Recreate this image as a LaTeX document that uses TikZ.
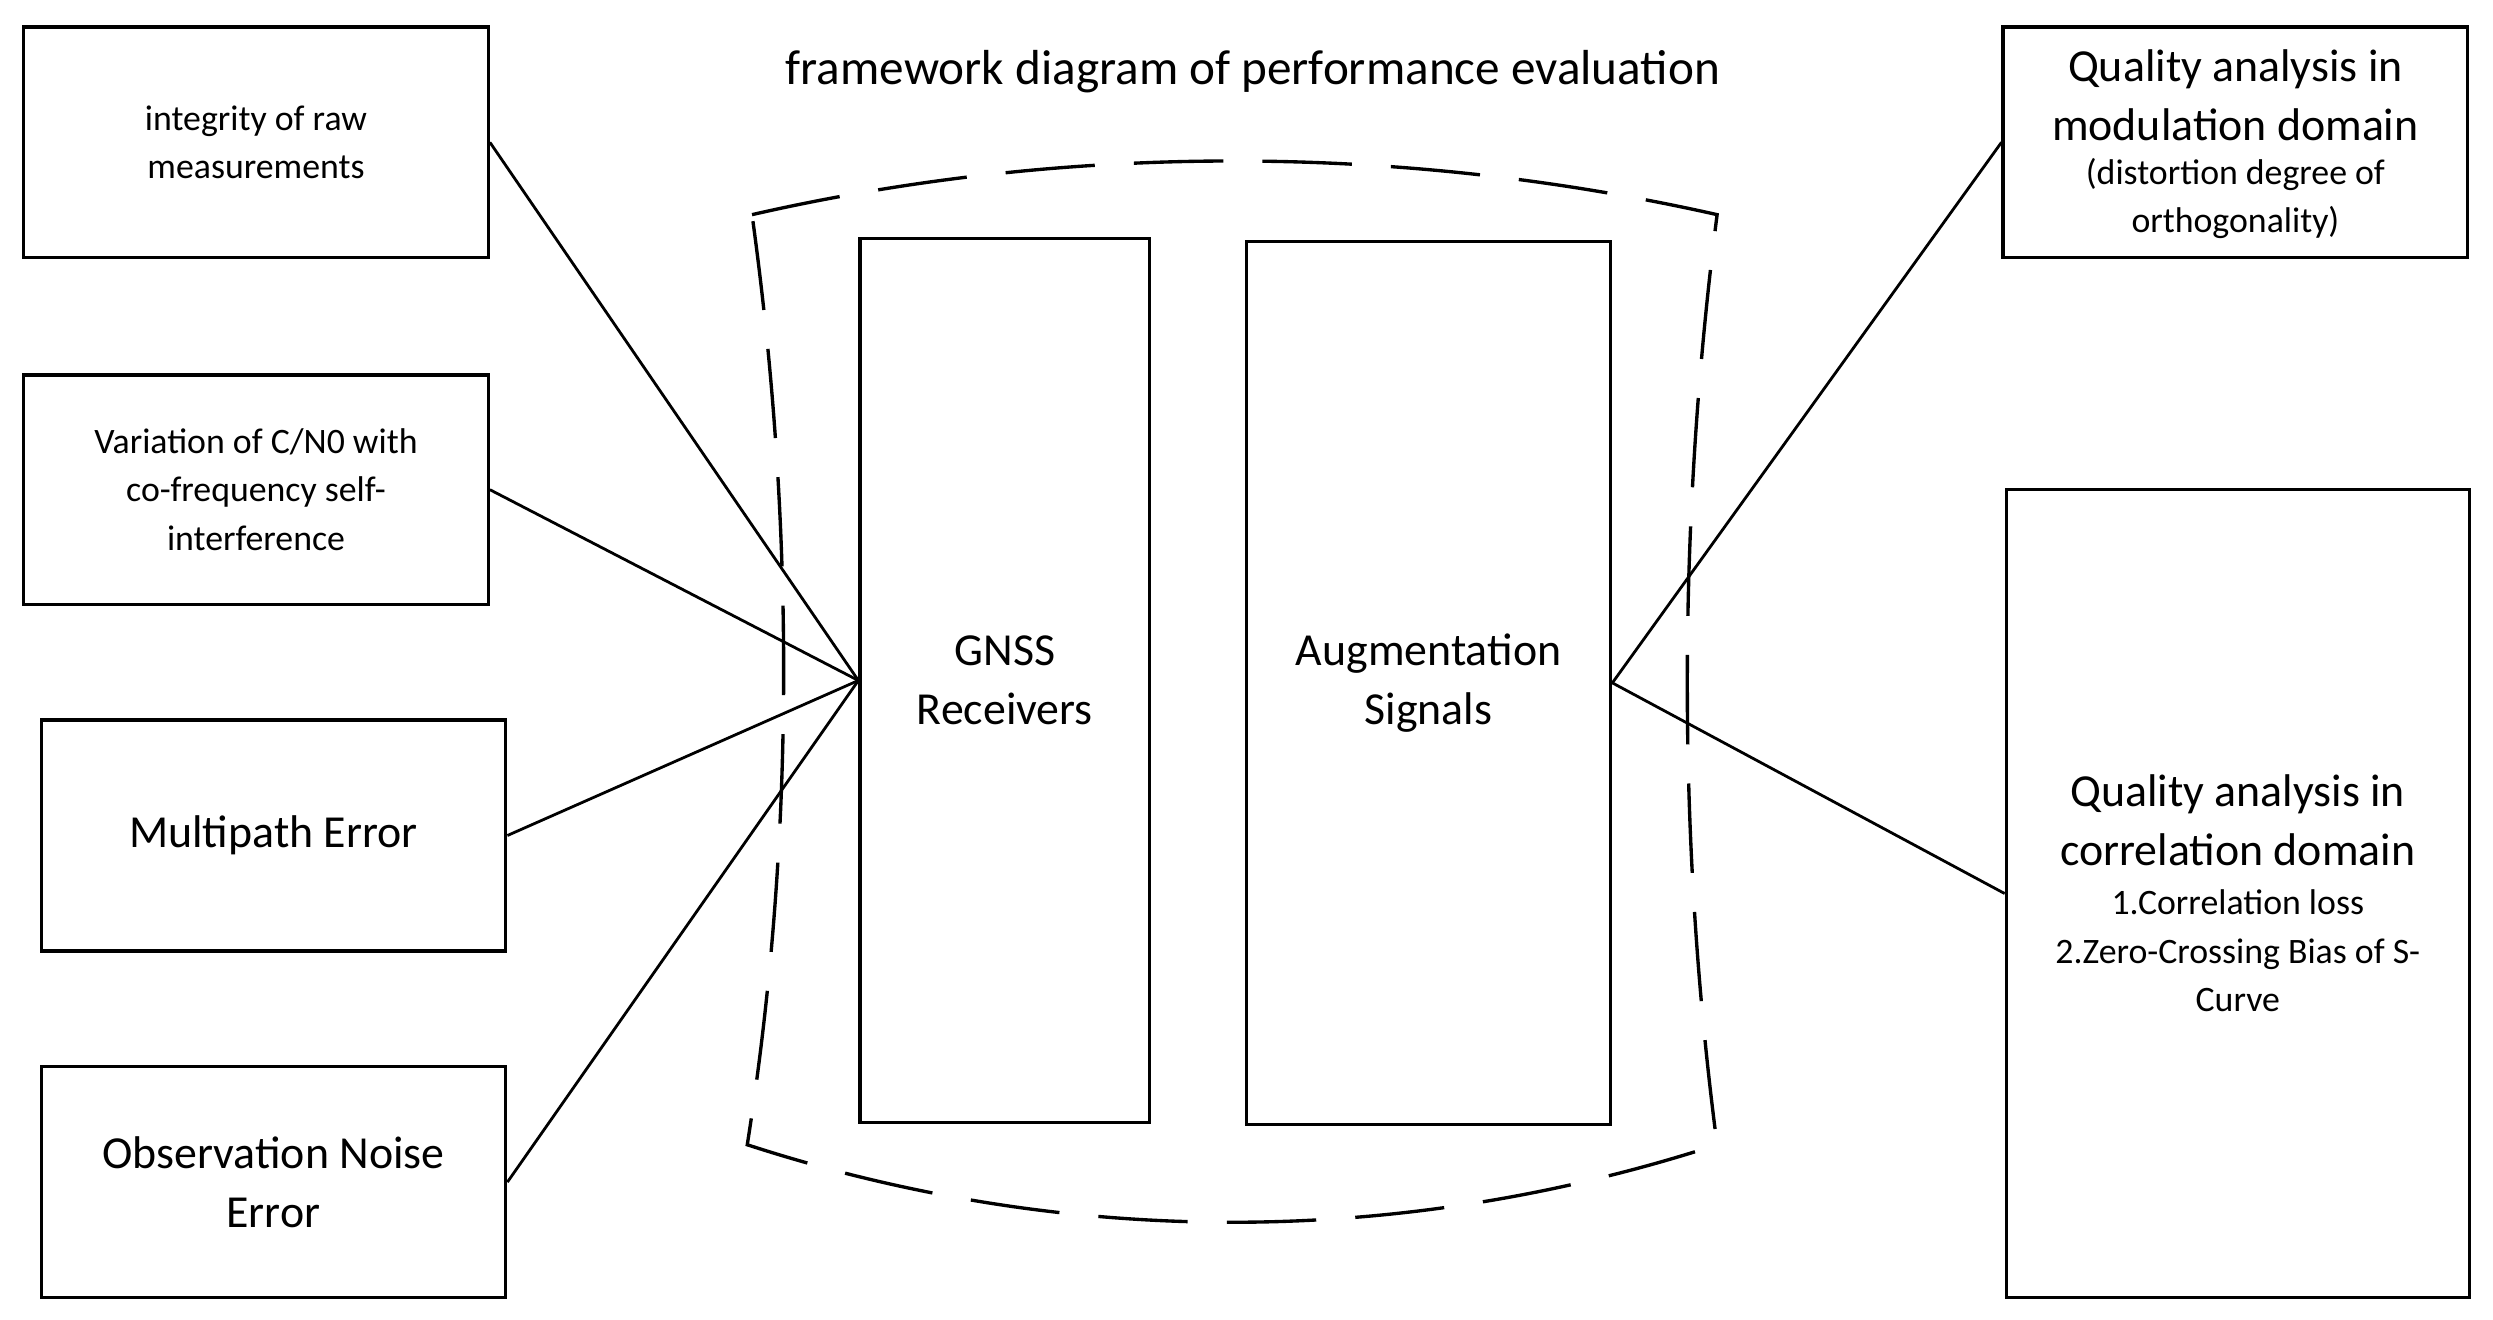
\documentclass[tikz,border=0pt]{standalone}
\usepackage{fontspec}
\setmainfont{Carlito}
\begin{document}
\begin{tikzpicture}[x=0.01cm,y=-0.01cm,
 bx/.style={draw,line width=0.6pt,inner sep=0pt,align=center},
 big/.style={font=\fontsize{8.2}{10.5}\selectfont},
 sml/.style={font=\fontsize{6.4}{8.6}\selectfont},
 ln/.style={line width=0.5pt}]
\useasboundingbox (0,0) rectangle (1568,830);
\node[bx,sml,minimum width=2.92cm,minimum height=1.45cm] (b1) at (161,89.5) {integrity of raw\\measurements};
\node[bx,sml,minimum width=2.92cm,minimum height=1.44cm] (b2) at (161,308) {Variation of C/N0 with\\co-frequency self-\\interference};
\node[bx,big,minimum width=2.92cm,minimum height=1.45cm] (b3) at (172,525.5) {Multipath Error};
\node[bx,big,minimum width=2.92cm,minimum height=1.45cm] (b4) at (172,743.5) {Observation Noise\\Error};
\node[bx,big,minimum width=1.82cm,minimum height=5.56cm] (g) at (632,428) {GNSS\\Receivers};
\node[bx,big,minimum width=2.29cm,minimum height=5.55cm] (a) at (898.5,429.5) {Augmentation\\Signals};
\node[bx,minimum width=2.92cm,minimum height=1.45cm] (r1) at (1406,89.5) {};
\node[big,align=center] at (1406,60) {Quality analysis in\\modulation domain};
\node[sml,align=center] at (1406,125) {(distortion degree of\\orthogonality)};
\node[bx,minimum width=2.91cm,minimum height=5.08cm] (r2) at (1407.5,562) {};
\node[big,align=center] at (1407.5,516) {Quality analysis in\\correlation domain};
\node[sml,align=center] at (1407.5,598) {1.Correlation loss\\2.Zero-Crossing Bias of S-\\Curve};
\node[font=\fontsize{8.8}{10}\selectfont] (t) at (788,45) {framework diagram of performance evaluation};
\draw[dashed,dash pattern=on 16pt off 7pt,line width=0.6pt]
 (473,135) .. controls (670,90) and (880,90) .. (1080,135)
 .. controls (1055,330) and (1055,530) .. (1080,720)
 .. controls (880,785) and (670,785) .. (470,720)
 .. controls (500,530) and (500,330) .. (473,135);
\draw[ln] (b1.east) -- (g.west);
\draw[ln] (b2.east) -- (g.west);
\draw[ln] (b3.east) -- (g.west);
\draw[ln] (b4.east) -- (g.west);
\draw[ln] (a.east) -- (r1.west);
\draw[ln] (a.east) -- (r2.west);
\end{tikzpicture}
\end{document}
